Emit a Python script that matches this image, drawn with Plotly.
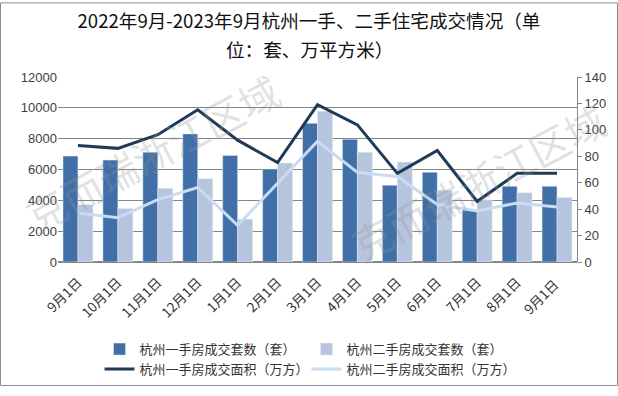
import plotly.graph_objects as go

categories = ["9月1日", "10月1日", "11月1日", "12月1日", "1月1日", "2月1日", "3月1日",
              "4月1日", "5月1日", "6月1日", "7月1日", "8月1日", "9月1日 "]
new_units = [6870, 6610, 7120, 8310, 6910, 6030, 9000, 7960, 4980, 5820, 3380, 4910, 4910]
second_units = [3720, 3460, 4780, 5400, 2780, 6420, 9780, 7120, 6480, 4660, 4030, 4490, 4180]
new_area = [88.2, 86.0, 96.3, 115.2, 92.2, 75.2, 119.0, 103.8, 67.1, 84.4, 45.9, 67.1, 67.1]
second_area = [37.0, 33.5, 47.2, 56.4, 27.7, 59.6, 91.4, 67.8, 64.7, 43.5, 38.6, 44.7, 41.6]

names = ["杭州一手房成交套数（套）", "杭州二手房成交套数（套）",
         "杭州一手房成交面积（万方）", "杭州二手房成交面积（万方）"]
title_line1 = "2022年9月-2023年9月杭州一手、二手住宅成交情况（单"
title_line2 = "位：套、万平方米）"

FONT = "Liberation Sans, Noto Sans CJK SC, sans-serif"
CJK = "Noto Sans CJK SC, sans-serif"

fig = go.Figure()
fig.add_trace(go.Bar(x=categories, y=new_units, name=names[0], marker_color="#4170A8"))
fig.add_trace(go.Bar(x=categories, y=second_units, name=names[1], marker_color="#B6C4DD"))
fig.add_trace(go.Scatter(x=categories, y=new_area, name=names[2], mode="lines",
                         line=dict(color="#1F3A56", width=3), yaxis="y2"))
fig.add_trace(go.Scatter(x=categories, y=second_area, name=names[3], mode="lines",
                         line=dict(color="#C8DCF2", width=3), yaxis="y2"))

fig.update_layout(
    width=618, height=396,
    margin=dict(l=58, r=41, t=77, b=128),
    paper_bgcolor="white", plot_bgcolor="white",
    font=dict(family=FONT, size=13, color="#333333"),
    title=dict(text=title_line1,
               x=0.5, xanchor="center", y=1 - 21 / 396, yanchor="middle",
               font=dict(family=CJK, size=18.6, color="#111111")),
    barmode="group", bargap=0.25, bargroupgap=0.0,
    xaxis=dict(type="category", tickangle=-45, showgrid=False, showline=False,
               ticks="", ticklabelstandoff=9,
               tickfont=dict(family=CJK, size=13.5, color="#333333")),
    yaxis=dict(range=[0, 12000], dtick=2000, tickformat="d", showgrid=True,
               gridcolor="#858585", gridwidth=1, zeroline=True, zerolinecolor="#858585",
               showline=False, ticks="", tickfont=dict(size=13, color="#404040")),
    yaxis2=dict(range=[0, 140], dtick=20, overlaying="y", side="right", showgrid=False,
                showline=True, linecolor="#858585", linewidth=1, ticks="outside",
                ticklen=4, tickcolor="#858585", zeroline=False,
                tickfont=dict(size=13, color="#404040")),
    legend=dict(orientation="h", x=0.080, xanchor="left", y=-0.39, yanchor="top",
                entrywidth=162, font=dict(family=CJK, size=13, color="#333333"),
                bgcolor="rgba(0,0,0,0)"),
    showlegend=True,
)

# second title line
fig.add_annotation(text=title_line2, xref="paper", yref="paper",
                   x=(309 - 58) / 519, y=(268 - 48) / 191, showarrow=False,
                   xanchor="center", yanchor="middle",
                   font=dict(family=CJK, size=18.6, color="#111111"))

# watermark
for (px, py) in [(152, 155), (478, 185)]:
    fig.add_annotation(text="克而瑞浙江区域", xref="paper", yref="paper",
                       x=(px - 58) / 519, y=(268 - py) / 191, showarrow=False,
                       xanchor="center", yanchor="middle",
                       textangle=-28, font=dict(family=CJK, size=40,
                                                color="rgba(150,150,150,0.28)"))

# frame
fig.add_shape(type="rect", xref="paper", yref="paper",
              x0=(0.5 - 58) / 519, x1=(617.5 - 58) / 519,
              y0=(268 - 395.5) / 191, y1=(268 - 0.5) / 191,
              line=dict(color="#8C8C8C", width=1), layer="below")

fig.write_html("out.html", config={"displayModeBar": False},
               post_script="document.body.style.margin='0';")
